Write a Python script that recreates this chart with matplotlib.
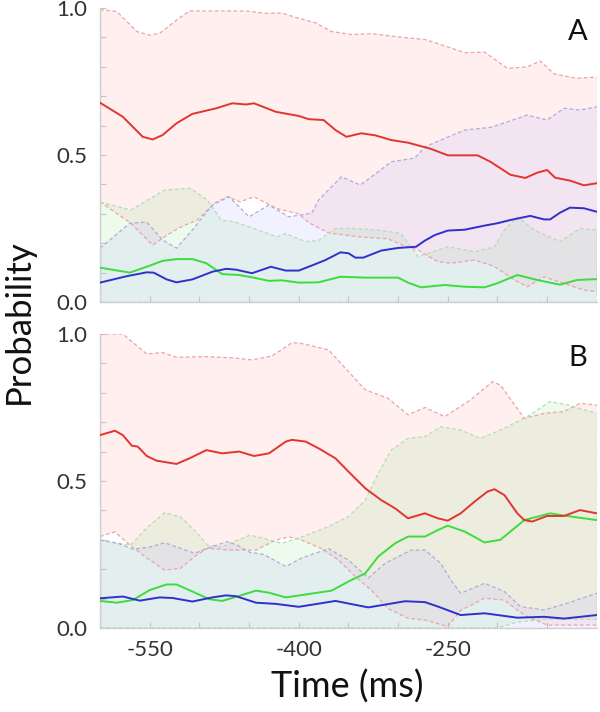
import matplotlib
matplotlib.use("Agg")
import matplotlib.pyplot as plt
import numpy as np

# ---------------- data ----------------
# Panel A
A_red_t = [-600,-577,-557,-547,-537,-523,-507,-483,-467,-453,-445,-423,-400,-390,-375,-363,-352,-337,-323,-307,-290,-267,-250,-220,-207,-187,-172,-160,-150,-142,-127,-113,-100]
A_red = [0.678,0.63,0.562,0.553,0.568,0.608,0.64,0.659,0.676,0.672,0.676,0.647,0.633,0.622,0.619,0.585,0.562,0.574,0.567,0.551,0.542,0.521,0.499,0.499,0.477,0.433,0.422,0.44,0.449,0.423,0.413,0.397,0.404]
A_blue_t = [-600,-573,-553,-546,-533,-523,-507,-487,-473,-463,-447,-428,-413,-400,-387,-373,-358,-350,-343,-335,-317,-300,-282,-273,-263,-250,-233,-213,-200,-187,-167,-153,-147,-137,-127,-113,-100]
A_blue = [0.066,0.088,0.101,0.100,0.077,0.067,0.077,0.103,0.113,0.11,0.098,0.12,0.107,0.107,0.124,0.143,0.169,0.166,0.151,0.151,0.175,0.184,0.188,0.209,0.228,0.243,0.246,0.26,0.268,0.279,0.293,0.281,0.281,0.304,0.321,0.319,0.307]
A_green_t = [-600,-570,-553,-537,-523,-507,-493,-477,-460,-447,-430,-417,-400,-380,-358,-333,-300,-290,-277,-253,-233,-213,-200,-180,-160,-137,-120,-100]
A_green = [0.117,0.1,0.12,0.14,0.146,0.146,0.132,0.095,0.092,0.084,0.072,0.074,0.066,0.067,0.086,0.083,0.083,0.066,0.05,0.058,0.052,0.05,0.064,0.092,0.075,0.059,0.075,0.078]

A_red_hi_t = [-600,-583,-563,-550,-540,-523,-510,-453,-433,-417,-400,-383,-367,-347,-327,-300,-273,-250,-233,-213,-190,-170,-157,-143,-120,-100]
A_red_hi = [0.995,0.988,0.92,0.908,0.914,0.959,0.99,0.99,0.982,0.983,0.965,0.95,0.92,0.91,0.913,0.902,0.893,0.868,0.848,0.85,0.795,0.8,0.82,0.776,0.761,0.765]
A_red_lo_t = [-600,-569,-547,-535,-522,-502,-485,-472,-459,-445,-422,-400,-390,-370,-340,-310,-293,-280,-260,-247,-223,-203,-183,-170,-153,-133,-113,-100]
A_red_lo = [0.341,0.268,0.194,0.222,0.25,0.279,0.336,0.358,0.341,0.358,0.318,0.30,0.27,0.235,0.222,0.215,0.19,0.177,0.137,0.132,0.143,0.121,0.075,0.052,0.086,0.063,0.041,0.035]
A_green_hi_t = [-600,-569,-535,-509,-492,-478,-465,-445,-422,-413,-393,-380,-363,-347,-320,-297,-280,-250,-223,-203,-193,-180,-163,-137,-117,-100]
A_green_hi = [0.34,0.313,0.381,0.387,0.347,0.279,0.273,0.25,0.222,0.233,0.205,0.21,0.25,0.25,0.245,0.233,0.155,0.188,0.171,0.188,0.245,0.29,0.245,0.205,0.25,0.245]
A_green_lo_t = [-600,-100]
A_green_lo = [0.0,0.0]
A_blue_hi_t = [-600,-570,-553,-537,-523,-507,-487,-470,-450,-430,-410,-400,-387,-380,-367,-357,-338,-320,-307,-283,-273,-257,-233,-207,-190,-170,-150,-133,-117,-100]
A_blue_hi = [0.183,0.268,0.272,0.211,0.183,0.245,0.33,0.358,0.29,0.33,0.29,0.295,0.302,0.347,0.392,0.426,0.398,0.443,0.477,0.49,0.528,0.551,0.585,0.594,0.613,0.636,0.619,0.659,0.653,0.664]
A_blue_lo_t = [-600,-100]
A_blue_lo = [0.0,0.0]

# Panel B
B_red_t = [-600,-585,-577,-568,-562,-553,-543,-523,-510,-493,-477,-460,-445,-430,-413,-407,-393,-380,-363,-350,-333,-317,-303,-290,-273,-260,-250,-237,-223,-210,-203,-193,-180,-173,-165,-150,-133,-117,-100]
B_red = [0.656,0.671,0.656,0.62,0.617,0.585,0.569,0.558,0.577,0.605,0.594,0.6,0.585,0.594,0.634,0.64,0.634,0.611,0.577,0.532,0.475,0.435,0.407,0.373,0.39,0.373,0.365,0.39,0.43,0.464,0.472,0.452,0.39,0.367,0.362,0.381,0.381,0.401,0.39]
B_green_t = [-600,-583,-567,-550,-533,-523,-507,-490,-477,-460,-443,-430,-413,-397,-367,-350,-333,-320,-303,-290,-273,-260,-250,-233,-213,-197,-173,-147,-130,-100]
B_green = [0.092,0.086,0.095,0.129,0.148,0.148,0.124,0.098,0.092,0.109,0.127,0.12,0.104,0.112,0.127,0.158,0.186,0.243,0.288,0.311,0.311,0.333,0.348,0.328,0.291,0.3,0.367,0.39,0.381,0.367]
B_blue_t = [-600,-577,-560,-540,-527,-507,-487,-473,-463,-443,-423,-400,-363,-330,-293,-273,-260,-237,-213,-180,-153,-133,-100]
B_blue = [0.101,0.107,0.093,0.104,0.102,0.09,0.104,0.111,0.108,0.086,0.082,0.072,0.092,0.07,0.091,0.088,0.073,0.044,0.05,0.035,0.038,0.032,0.044]

B_red_hi_t = [-600,-577,-553,-537,-523,-493,-467,-447,-427,-407,-400,-370,-333,-310,-290,-273,-253,-227,-205,-197,-173,-153,-133,-117,-100]
B_red_hi = [1.0,1.0,0.932,0.937,0.921,0.923,0.919,0.912,0.925,0.97,0.97,0.946,0.81,0.781,0.725,0.75,0.719,0.776,0.838,0.826,0.713,0.73,0.736,0.764,0.758]
B_red_lo_t = [-600,-585,-572,-555,-535,-519,-505,-492,-470,-443,-423,-410,-397,-377,-360,-343,-327,-310,-290,-273,-250,-237,-213,-193,-180,-170,-150,-100]
B_red_lo = [0.311,0.327,0.288,0.243,0.197,0.203,0.243,0.271,0.265,0.265,0.299,0.31,0.299,0.27,0.231,0.175,0.129,0.066,0.033,0.027,0.005,0.06,0.101,0.095,0.061,0.038,0.01,0.01]
B_green_hi_t = [-600,-585,-569,-552,-535,-519,-502,-492,-478,-465,-449,-429,-417,-397,-370,-350,-333,-320,-307,-290,-273,-257,-237,-217,-197,-170,-147,-130,-100]
B_green_hi = [0.30,0.29,0.282,0.344,0.392,0.378,0.322,0.282,0.275,0.294,0.316,0.299,0.288,0.31,0.345,0.379,0.435,0.526,0.605,0.645,0.651,0.685,0.673,0.645,0.673,0.719,0.77,0.759,0.73]
B_green_lo_t = [-600,-200,-180,-150,-100]
B_green_lo = [0.0,0.0,0.02,0.03,0.03]
B_blue_hi_t = [-600,-582,-567,-550,-535,-519,-505,-492,-472,-462,-449,-435,-413,-397,-370,-350,-330,-313,-287,-273,-257,-247,-237,-213,-193,-177,-153,-130,-100]
B_blue_hi = [0.299,0.288,0.268,0.275,0.29,0.271,0.254,0.271,0.294,0.282,0.257,0.25,0.209,0.238,0.27,0.231,0.17,0.22,0.265,0.265,0.22,0.163,0.118,0.152,0.124,0.073,0.061,0.084,0.118]
B_blue_lo_t = [-600,-100]
B_blue_lo = [0.0,0.0]

x_ticks = [-550, -500, -450, -400, -350, -300, -250, -200, -150]
x_ticklabels = ["-550", "", "", "-400", "", "", "-250", "", ""]
y_ticks = [0.0, 0.1, 0.2, 0.3, 0.4, 0.5, 0.6, 0.7, 0.8, 0.9, 1.0]
y_ticklabels = ["0.0", "", "", "", "", "0.5", "", "", "", "", "1.0"]

# ---------------- style ----------------
plt.rcParams['font.family'] = ['Lato', 'DejaVu Sans']
RED, GREEN, BLUE = '#e2352f', '#3cdc3c', '#3030cc'
# (face colour, alpha, edge colour)
FILL = {'red': ('#ffa0a0', 0.16, '#eaa4aa'),
        'green': ('#8ee88e', 0.16, '#b8dcb4'),
        'blue': ('#b4acff', 0.16, '#b0acd8')}


def grid_band(t_hi, hi, t_lo, lo):
    t = np.union1d(t_hi, t_lo)
    return t, np.interp(t, t_hi, hi), np.interp(t, t_lo, lo)


def panel(ax, bands, lines, letter, show_xlabels):
    dash = (0, (3, 2))
    for key, (thi, hi, tlo, lo) in bands.items():
        t, h, l = grid_band(thi, hi, tlo, lo)
        fc, al, ec = FILL[key]
        ax.fill_between(t, l, h, facecolor=fc, alpha=al, edgecolor='none', zorder=1)
        ax.plot(t, h, color=ec, lw=0.9, ls=dash, zorder=2)
        ax.plot(t, l, color=ec, lw=0.9, ls=dash, zorder=2)
        ax.plot([t[0], t[0]], [l[0], h[0]], color=ec, lw=0.9, ls=dash, zorder=2)
        ax.plot([t[-1], t[-1]], [l[-1], h[-1]], color=ec, lw=0.9, ls=dash, zorder=2)
    for t, v, c in lines:
        ax.plot(t, v, color=c, lw=1.4, zorder=3)
    ax.set_xlim(-600, -100)
    ax.set_ylim(0, 1)
    ax.set_xticks(x_ticks)
    ax.set_xticklabels(x_ticklabels if show_xlabels else [""] * len(x_ticks))
    ax.set_yticks(y_ticks)
    ax.set_yticklabels(y_ticklabels)
    ax.tick_params(direction='in', length=4, width=0.8, color='#c4c4c4',
                   labelsize=16, labelcolor='#333333', pad=9)
    for s in ['top', 'right']:
        ax.spines[s].set_visible(False)
    for s in ['left', 'bottom']:
        ax.spines[s].set_color('#cfcfcf')
        ax.spines[s].set_linewidth(1.0)
    ax.text(0.962, 0.92, letter, transform=ax.transAxes, ha='center', va='center',
            fontsize=21, color='#111111')


fig = plt.figure(figsize=(6.0, 7.12), dpi=100)
axA = fig.add_axes([0.1667, 0.5758, 0.828, 0.4129])
axB = fig.add_axes([0.1667, 0.118, 0.828, 0.4129])

panel(axA,
      {'red': (A_red_hi_t, A_red_hi, A_red_lo_t, A_red_lo),
       'green': (A_green_hi_t, A_green_hi, A_green_lo_t, A_green_lo),
       'blue': (A_blue_hi_t, A_blue_hi, A_blue_lo_t, A_blue_lo)},
      [(A_green_t, A_green, GREEN), (A_blue_t, A_blue, BLUE), (A_red_t, A_red, RED)],
      'A', False)
panel(axB,
      {'red': (B_red_hi_t, B_red_hi, B_red_lo_t, B_red_lo),
       'green': (B_green_hi_t, B_green_hi, B_green_lo_t, B_green_lo),
       'blue': (B_blue_hi_t, B_blue_hi, B_blue_lo_t, B_blue_lo)},
      [(B_green_t, B_green, GREEN), (B_blue_t, B_blue, BLUE), (B_red_t, B_red, RED)],
      'B', True)

fig.text(0.032, 0.548, 'Probability', rotation=90, ha='center', va='center',
         fontsize=25, color='#111111')
fig.text(0.578, 0.036, 'Time (ms)', ha='center', va='center', fontsize=26, color='#111111')

fig.savefig('out.png', dpi=100)
